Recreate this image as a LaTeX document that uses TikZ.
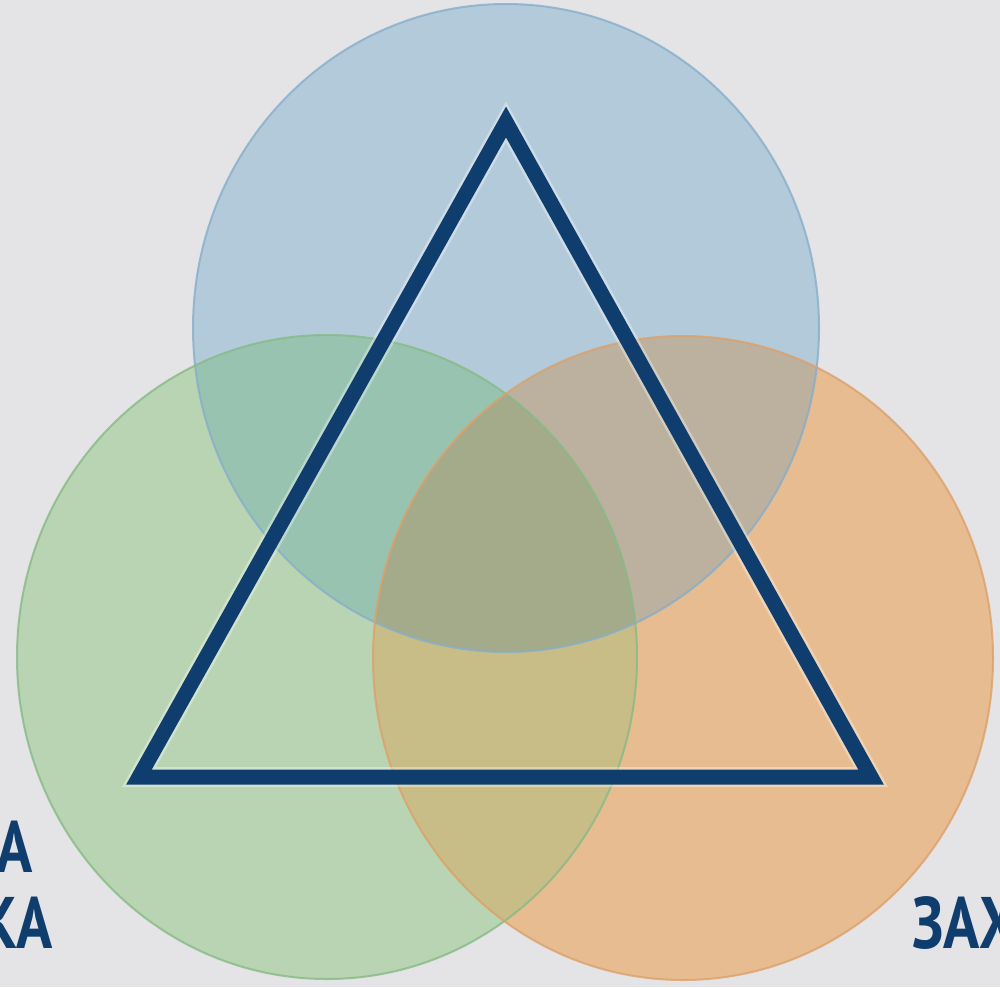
\documentclass[tikz,border=0pt]{standalone}
\usepackage{fontspec}
\setmainfont{PT Sans}
\definecolor{bgc}{HTML}{E4E3E5}
\definecolor{bluef}{HTML}{B3CADB}
\definecolor{greenf}{HTML}{B8D4B2}
\definecolor{orangef}{HTML}{E6BC90}
\definecolor{bgmix}{HTML}{99C3B1}
\definecolor{bomix}{HTML}{BCB09E}
\definecolor{gomix}{HTML}{C9BD87}
\definecolor{allmix}{HTML}{A3AB8A}
\definecolor{bluee}{HTML}{86AECB}
\definecolor{greene}{HTML}{86BA86}
\definecolor{orangee}{HTML}{DDA06A}
\definecolor{navy}{HTML}{0F3E6E}
\tikzset{
  ring/.style={line width=2pt, draw opacity=0.8},
  tri/.style={draw=navy, line width=15pt, line join=miter},
  halo/.style={draw=white, draw opacity=0.35, line width=20pt, line join=miter},
  lbl/.style={text=navy, font=\bfseries\fontsize{73}{80}\selectfont, inner sep=0pt},
}
\begin{document}
\begin{tikzpicture}[x=1pt,y=-1pt]
\useasboundingbox (0,0) rectangle (1000,987);
\clip (0,0) rectangle (1000,987);
\fill[bgc] (0,0) rectangle (1000,987);
\def\BlueC{(506,328) ellipse [x radius=313, y radius=324]}
\def\GreenC{(327,657) ellipse [x radius=310, y radius=322]}
\def\OrangeC{(683,658) ellipse [x radius=310, y radius=322]}
% single regions
\fill[bluef] \BlueC;
\fill[greenf] \GreenC;
\fill[orangef] \OrangeC;
% pairwise overlaps
\begin{scope}\clip \BlueC; \fill[bgmix] \GreenC; \end{scope}
\begin{scope}\clip \BlueC; \fill[bomix] \OrangeC; \end{scope}
\begin{scope}\clip \GreenC; \fill[gomix] \OrangeC; \end{scope}
\begin{scope}\clip \BlueC; \clip \GreenC; \fill[allmix] \OrangeC; \end{scope}
% outlines
\draw[ring, draw=bluee] \BlueC;
\draw[ring, draw=greene] \GreenC;
\draw[ring, draw=orangee] \OrangeC;
% triangle
\coordinate (apex) at (506,122);
\coordinate (bl) at (139,777);
\coordinate (br) at (871,777);
\draw[halo] (apex) -- (bl) -- (br) -- cycle;
\draw[tri] (apex) -- (bl) -- (br) -- cycle;
% labels (cut by the picture edge, as in the reference)
\node[lbl, anchor=base east] (l1) at (33,872) {\scalebox{0.82}[1]{А}};
\node[lbl, anchor=base east] (l2) at (53,948) {\scalebox{0.82}[1]{КА}};
\node[lbl, anchor=base west] (r1) at (912,948) {\scalebox{0.82}[1]{ЗАХ}};
\end{tikzpicture}
\end{document}
